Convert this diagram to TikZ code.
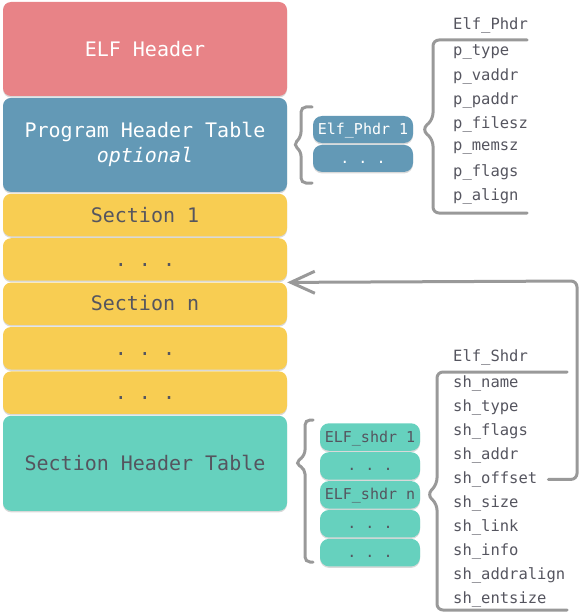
\documentclass[tikz,border=0pt]{standalone}
\usepackage{fontspec}
\setmonofont{DejaVu Sans Mono}
\usetikzlibrary{positioning, shadows, arrows.meta}

\definecolor{elfred}{HTML}{E88387}
\definecolor{phblue}{HTML}{6399B6}
\definecolor{secyellow}{HTML}{F8CD52}
\definecolor{shteal}{HTML}{66D1BE}
\definecolor{ink}{HTML}{55555F}
\definecolor{linegray}{HTML}{999999}

\begin{document}
\begin{tikzpicture}[x=1pt, y=-1pt, node distance=1.5pt,
  block/.style={rounded corners=8pt, minimum width=284pt, text=ink,
    font=\ttfamily\fontsize{20}{25}\selectfont,
    drop shadow={opacity=0.3, shadow xshift=0pt, shadow yshift=-1.5pt}},
  sec/.style={block, fill=secyellow, minimum height=42.5pt, text height=14pt, text depth=0pt},
  entry/.style={rounded corners=9pt, minimum width=100pt, minimum height=27pt,
    text height=11pt, text depth=1pt, inner xsep=2pt,
    font=\ttfamily\fontsize{15}{18}\selectfont,
    drop shadow={opacity=0.3, shadow xshift=0pt, shadow yshift=-1.5pt}},
  field/.style={anchor=west, inner xsep=0pt, text=ink, font=\ttfamily\fontsize{15.5}{18}\selectfont},
  brace/.style={draw=linegray, line width=3pt, rounded corners=6pt, line cap=round},
  link/.style={draw=linegray, line width=3pt, rounded corners=6pt, line cap=round}]

\useasboundingbox (0,0) rectangle (582,615);

% file layout
\node[block, fill=elfred, text=white, minimum height=94pt] (elf) at (145,49) {ELF Header};
\node[block, fill=phblue, text=white, minimum height=94pt, align=center, below=of elf] (pht)
  {Program Header Table\\\textit{optional}};
\node[sec, below=of pht] (s1) {Section 1};
\node[sec, below=of s1] (s2) {. . .};
\node[sec, below=of s2] (sn) {Section n};
\node[sec, below=of sn] (s4) {. . .};
\node[sec, below=of s4] (s5) {. . .};
\node[block, fill=shteal, minimum height=95pt, below=of s5] (sht) {Section Header Table};

% program headers
\node[entry, fill=phblue, text=white] (ph1) at (363,129.5) {Elf\_Phdr 1};
\node[entry, fill=phblue, text=white, below=of ph1] (ph2) {. . .};

% section headers
\node[entry, fill=shteal, text=ink, minimum height=27.5pt] (sh1) at (370,437) {ELF\_shdr 1};
\node[entry, fill=shteal, text=ink, minimum height=27.5pt, below=1pt of sh1] (sh2) {. . .};
\node[entry, fill=shteal, text=ink, minimum height=27.5pt, below=1pt of sh2] (shn) {ELF\_shdr n};
\node[entry, fill=shteal, text=ink, minimum height=27.5pt, below=1pt of shn] (sh4) {. . .};
\node[entry, fill=shteal, text=ink, minimum height=27.5pt, below=1pt of sh4] (sh5) {. . .};

% struct fields
\node[field] (phdr) at (453,25) {Elf\_Phdr};
\foreach \f [count=\i] in {p\_type, p\_vaddr, p\_paddr, p\_filesz, p\_memsz, p\_flags, p\_align}
  \node[field] (pf\i) at (453,28+24*\i) {\f};

\node[field] (shdr) at (453,357) {Elf\_Shdr};
\foreach \f [count=\i] in {sh\_name, sh\_type, sh\_flags, sh\_addr, sh\_offset, sh\_size,
    sh\_link, sh\_info, sh\_addralign, sh\_entsize}
  \node[field] (sf\i) at (453,358.9+24.1*\i) {\f};

% braces
\draw[brace, rounded corners=5pt] (312,107) -- (301,107) -- (301,137) -- ([xshift=6pt]pht.east)
  -- (301,151) -- (301,183) -- (312,183);
\draw[brace] (527,40) -- (433,40) -- (433,119) -- ([xshift=9pt]ph1.east)
  -- (433,140) -- (433,213) -- (527,213);
\draw[brace, rounded corners=5pt] (313,420) -- (305,420) -- (305,455) -- ([xshift=8pt]sht.east)
  -- (305,469) -- (305,562) -- (313,562);
\draw[brace] (567,372) -- (437,372) -- (437,484) -- ([xshift=7pt]shn.east)
  -- (437,504) -- (437,610) -- (567,610);

% sh_offset points into the sections
\draw[link, -{Straight Barb[length=24pt, width=22pt]}]
  ([xshift=11pt]sf5.east) -| (577,281) -- (sn.north east);

\end{tikzpicture}
\end{document}
